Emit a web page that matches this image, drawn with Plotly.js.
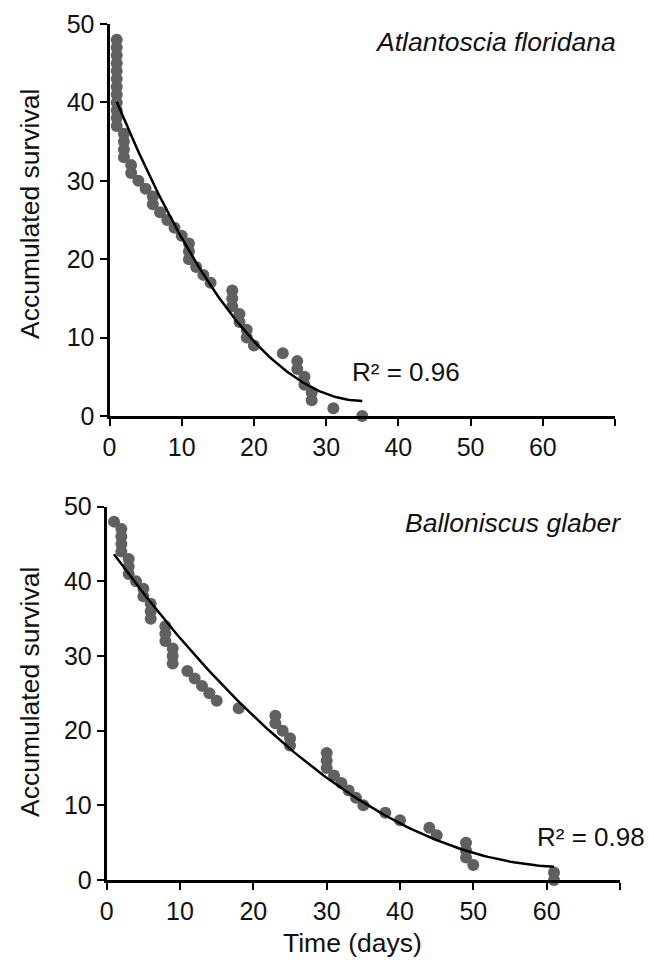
<!DOCTYPE html>
<html>
<head>
<meta charset="utf-8">
<script src="https://cdn.plot.ly/plotly-3.0.1.min.js"></script>
<style>html,body{margin:0;padding:0;background:#fff;}#chart{width:649px;height:967px;}</style>
</head>
<body>
<div id="chart"></div>
<script>
// ---- Data ----
const atlDays = [1,1,1,1,1,1,1,1,1,1,1,1, 2,2,2,2, 3,3, 4, 5, 6,6, 7, 8, 9, 10, 11,11,11, 12, 13, 14, 17,17,17, 18,18, 19,19, 20, 24, 26,26, 27,27, 28,28, 31, 35];
const atlSurv = [48,47,46,45,44,43,42,41,40,39,38,37, 36,35,34,33, 32,31, 30, 29, 28,27, 26, 25, 24, 23, 22,21,20, 19, 18, 17, 16,15,14, 13,12, 11,10, 9, 8, 7,6, 5,4, 3,2, 1, 0];

const balDays = [1, 2,2,2,2, 3,3,3, 4, 5,5, 6,6,6, 8,8,8, 9,9,9, 11, 12, 13, 14, 15, 18, 23,23, 24, 25,25, 30,30,30, 31, 32, 33, 34, 35, 38, 40, 44, 45, 49,49,49, 50, 61,61];
const balSurv = [48, 47,46,45,44, 43,42,41, 40, 39,38, 37,36,35, 34,33,32, 31,30,29, 28, 27, 26, 25, 24, 23, 22,21, 20, 19,18, 17,16,15, 14, 13, 12, 11, 10, 9, 8, 7, 6, 5,4,3, 2, 1,0];

const species = ["Atlantoscia floridana", "Balloniscus glaber"];
const r2Labels = ["R² = 0.96", "R² = 0.98"];
const xTickVals = [0,10,20,30,40,50,60,70];
const xTickText = ["0","10","20","30","40","50","60",""];
const yTickVals = [0,10,20,30,40,50];

// ---- Quadratic least-squares trendline (as the spreadsheet's polynomial trendline) ----
function polyfit2(xs, ys){
  let S=[0,0,0,0,0], T=[0,0,0];
  for(let i=0;i<xs.length;i++){
    const x=xs[i], y=ys[i];
    let p=1;
    for(let k=0;k<5;k++){S[k]+=p; if(k<3) T[k]+=p*y; p*=x;}
  }
  const A=[[S[0],S[1],S[2],T[0]],[S[1],S[2],S[3],T[1]],[S[2],S[3],S[4],T[2]]];
  for(let c=0;c<3;c++){
    let piv=c; for(let r=c+1;r<3;r++) if(Math.abs(A[r][c])>Math.abs(A[piv][c])) piv=r;
    [A[c],A[piv]]=[A[piv],A[c]];
    for(let r=0;r<3;r++){ if(r===c) continue; const f=A[r][c]/A[c][c]; for(let k=c;k<4;k++) A[r][k]-=f*A[c][k]; }
  }
  return [A[0][3]/A[0][0], A[1][3]/A[1][1], A[2][3]/A[2][2]];
}
function trend(xs, ys){
  const c=polyfit2(xs, ys);
  const x0=Math.min(...xs), x1=Math.max(...xs);
  const tx=[], ty=[];
  for(let i=0;i<=120;i++){ const x=x0+(x1-x0)*i/120; tx.push(x); ty.push(c[0]+c[1]*x+c[2]*x*x); }
  return {x:tx, y:ty};
}

const FONT = "Liberation Sans, Arial, sans-serif";
const dotColor = "#606060";
const t1 = trend(atlDays, atlSurv), t2 = trend(balDays, balSurv);

const traces = [
  {x: atlDays, y: atlSurv, type:"scatter", mode:"markers", xaxis:"x", yaxis:"y",
   marker:{color:dotColor, size:12}, cliponaxis:false},
  {x: t1.x, y: t1.y, type:"scatter", mode:"lines", xaxis:"x", yaxis:"y",
   line:{color:"#000", width:2.5}, cliponaxis:false},
  {x: balDays, y: balSurv, type:"scatter", mode:"markers", xaxis:"x2", yaxis:"y2",
   marker:{color:dotColor, size:12}, cliponaxis:false},
  {x: t2.x, y: t2.y, type:"scatter", mode:"lines", xaxis:"x2", yaxis:"y2",
   line:{color:"#000", width:2.5}, cliponaxis:false}
];

const W=649, H=967;
const axCommon = {showline:true, linecolor:"#000", linewidth:3, ticks:"outside", ticklen:7, tickwidth:2,
  tickcolor:"#000", showgrid:false, zeroline:false, tickfont:{family:FONT, size:25, color:"#111"}, automargin:false, fixedrange:true};

const layout = {
  width:W, height:H, showlegend:false, paper_bgcolor:"#fff", plot_bgcolor:"#fff",
  margin:{l:0, r:0, t:0, b:0},
  xaxis: Object.assign({}, axCommon, {domain:[109.5/W, 615/W], range:[0,70], tickvals:xTickVals, ticktext:xTickText, anchor:"y"}),
  yaxis: Object.assign({}, axCommon, {domain:[1-416/H, 1-24/H], range:[0,50], tickvals:yTickVals, anchor:"x"}),
  xaxis2: Object.assign({}, axCommon, {domain:[106.7/W, 620/W], range:[0,70], tickvals:xTickVals, ticktext:xTickText, anchor:"y2"}),
  yaxis2: Object.assign({}, axCommon, {domain:[1-880/H, 1-506.7/H], range:[0,50], tickvals:yTickVals, anchor:"x2"}),
  annotations:[
    {text:species[0], xref:"paper", yref:"paper", x:618/W, y:1-42/H, xanchor:"right", yanchor:"middle", showarrow:false,
     font:{family:FONT, size:26.5, color:"#111", style:"italic"}},
    {text:species[1], xref:"paper", yref:"paper", x:623/W, y:1-523/H, xanchor:"right", yanchor:"middle", showarrow:false,
     font:{family:FONT, size:26.5, color:"#111", style:"italic"}},
    {text:r2Labels[0], xref:"paper", yref:"paper", x:350/W, y:1-372/H, xanchor:"left", yanchor:"middle", showarrow:false,
     font:{family:FONT, size:26, color:"#111"}},
    {text:r2Labels[1], xref:"paper", yref:"paper", x:535/W, y:1-837/H, xanchor:"left", yanchor:"middle", showarrow:false,
     font:{family:FONT, size:26, color:"#111"}},
    {text:"Accumulated survival", xref:"paper", yref:"paper", x:30/W, y:1-214/H, xanchor:"center", yanchor:"middle", textangle:-90, showarrow:false,
     font:{family:FONT, size:26.5, color:"#111"}},
    {text:"Accumulated survival", xref:"paper", yref:"paper", x:30/W, y:1-692/H, xanchor:"center", yanchor:"middle", textangle:-90, showarrow:false,
     font:{family:FONT, size:26.5, color:"#111"}},
    {text:"Time (days)", xref:"paper", yref:"paper", x:352/W, y:1-943/H, xanchor:"center", yanchor:"middle", showarrow:false,
     font:{family:FONT, size:26.5, color:"#111"}}
  ]
};

Plotly.newPlot("chart", traces, layout, {displayModeBar:false, staticPlot:true});
</script>
</body>
</html>
